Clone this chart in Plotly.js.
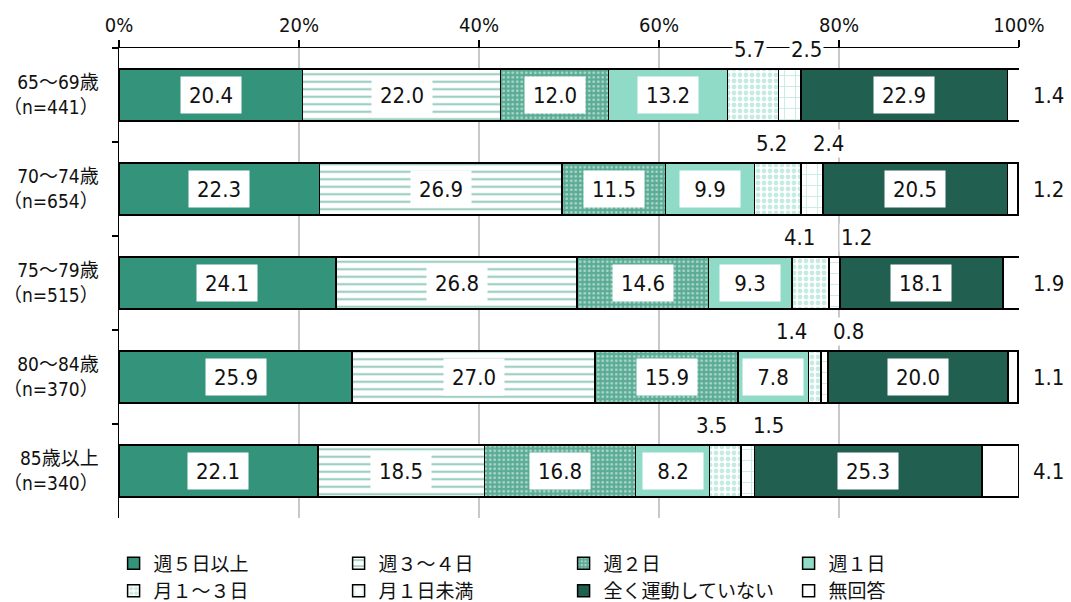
<!DOCTYPE html>
<html>
<head>
<meta charset="utf-8">
<script src="https://cdn.plot.ly/plotly-3.0.1.min.js"></script>
<style>
html,body{margin:0;padding:0;background:#fff;}
#chart{width:1071px;height:602px;}
#chart .annotation-text, #chart .xtick text, #chart .ytick text { font-stretch: condensed; }
</style>
</head>
<body>
<div id="chart"></div>
<script>
// ---- data ----
const categories = ['65～69歳<br>（n=441）', '70～74歳<br>（n=654）', '75～79歳<br>（n=515）', '80～84歳<br>（n=370）', '85歳以上<br>（n=340）'];
const seriesNames = ['週５日以上', '週３～４日', '週２日', '週１日', '月１～３日', '月１日未満', '全く運動していない', '無回答'];
const week5plus = [20.4, 22.3, 24.1, 25.9, 22.1];
const week3to4 = [22.0, 26.9, 26.8, 27.0, 18.5];
const week2 = [12.0, 11.5, 14.6, 15.9, 16.8];
const week1 = [13.2, 9.9, 9.3, 7.8, 8.2];
const month1to3 = [5.7, 5.2, 4.1, 1.4, 3.5];
const monthLess1 = [2.5, 2.4, 1.2, 0.8, 1.5];
const noExercise = [22.9, 20.5, 18.1, 20.0, 25.3];
const noAnswer = [1.4, 1.2, 1.9, 1.1, 4.1];
const xTickVals = [0, 20, 40, 60, 80, 100];
const xTickText = ['0%', '20%', '40%', '60%', '80%', '100%'];

const series = [week5plus, week3to4, week2, week1, month1to3, monthLess1, noExercise, noAnswer];

// ---- styles ----
const NUMFONT = '"DejaVu Sans Condensed", "DejaVu Sans", "Noto Sans CJK JP", sans-serif';
const JPFONT = '"Noto Sans CJK JP", sans-serif';
const markers = [
  {color: '#33937b'},
  {color: '#ffffff', pattern: {shape: '-', fgcolor: '#3f9f86', bgcolor: '#ffffff', size: 7.5, solidity: 0.3, fillmode: 'overlay'}},
  {color: '#5fb09a', pattern: {shape: '.', fgcolor: '#ffffff', bgcolor: '#5aac95', size: 4.5, solidity: 0.3, fillmode: 'overlay'}},
  {color: '#90dac8'},
  {color: '#ffffff', pattern: {shape: '.', fgcolor: '#8ed8c5', bgcolor: '#ffffff', size: 6, solidity: 0.5, fillmode: 'overlay'}},
  {color: '#ffffff', pattern: {shape: '+', fgcolor: '#9adccb', bgcolor: '#ffffff', size: 11, solidity: 0.18, fillmode: 'overlay'}},
  {color: '#215f50'},
  {color: '#ffffff'}
];

const traces = series.map((vals, i) => ({
  type: 'bar',
  orientation: 'h',
  name: seriesNames[i],
  x: vals,
  y: categories,
  marker: Object.assign({line: {color: '#000', width: 1.5}}, markers[i]),
  hoverinfo: 'skip'
}));

// ---- labels ----
const annotations = [];
const insideIdx = [0, 1, 2, 3, 6];
const LABFONT = {family: NUMFONT, size: 22, color: '#111'};
categories.forEach((cat, r) => {
  let cum = 0;
  const starts = [];
  series.forEach(vals => { starts.push(cum); cum += vals[r]; });
  insideIdx.forEach(i => {
    annotations.push({
      x: starts[i] + series[i][r] / 2, y: cat, xref: 'x', yref: 'y',
      text: series[i][r].toFixed(1), showarrow: false,
      font: LABFONT, bgcolor: '#ffffff', width: 58, height: 34
    });
  });
  const boundary = starts[5];
  annotations.push({
    x: boundary, y: cat, xref: 'x', yref: 'y', xanchor: 'right', xshift: -12, yshift: 46,
    text: series[4][r].toFixed(1), showarrow: false,
    font: LABFONT, bgcolor: '#ffffff', borderpad: 1
  });
  annotations.push({
    x: boundary, y: cat, xref: 'x', yref: 'y', xanchor: 'left', xshift: 10, yshift: 46,
    text: series[5][r].toFixed(1), showarrow: false,
    font: LABFONT, bgcolor: '#ffffff', borderpad: 1
  });
  annotations.push({
    x: 100, y: cat, xref: 'x', yref: 'y', xanchor: 'left', xshift: 12,
    text: series[7][r].toFixed(1), showarrow: false,
    font: LABFONT
  });
});

const layout = {
  width: 1071, height: 602,
  margin: {l: 119, r: 52, t: 48, b: 84, pad: 0, autoexpand: false},
  paper_bgcolor: '#fff', plot_bgcolor: '#fff',
  barmode: 'stack', bargap: 0.447,
  showlegend: true,
  xaxis: {
    side: 'top', range: [0, 100], tickvals: xTickVals, ticktext: xTickText,
    showline: true, linecolor: '#000', linewidth: 1.5,
    ticks: 'outside', ticklen: 7, tickwidth: 1.5, tickcolor: '#000',
    showgrid: true, gridcolor: '#c8c8c8', gridwidth: 1.5, zeroline: false,
    tickfont: {family: NUMFONT, size: 20, color: '#111'}, fixedrange: true, automargin: false
  },
  yaxis: {
    type: 'category', range: [4.5, -0.5], autorange: false,
    showline: true, linecolor: '#000', linewidth: 1.5,
    ticks: 'outside', tickson: 'boundaries', ticklen: 6, tickwidth: 1.5, tickcolor: '#000',
    showgrid: false, ticklabelstandoff: 15,
    tickfont: {family: NUMFONT, size: 19, color: '#111'}, fixedrange: true, automargin: false
  },
  legend: {
    orientation: 'h', x: -0.006, y: -0.056, xanchor: 'left', yanchor: 'top',
    entrywidth: 180, entrywidthmode: 'pixels', traceorder: 'normal',
    font: {family: JPFONT, size: 19, color: '#111'},
    itemclick: false, itemdoubleclick: false, tracegroupgap: 0
  },
  annotations: annotations
};

Plotly.newPlot('chart', traces, layout, {displayModeBar: false, staticPlot: true});
</script>
</body>
</html>
